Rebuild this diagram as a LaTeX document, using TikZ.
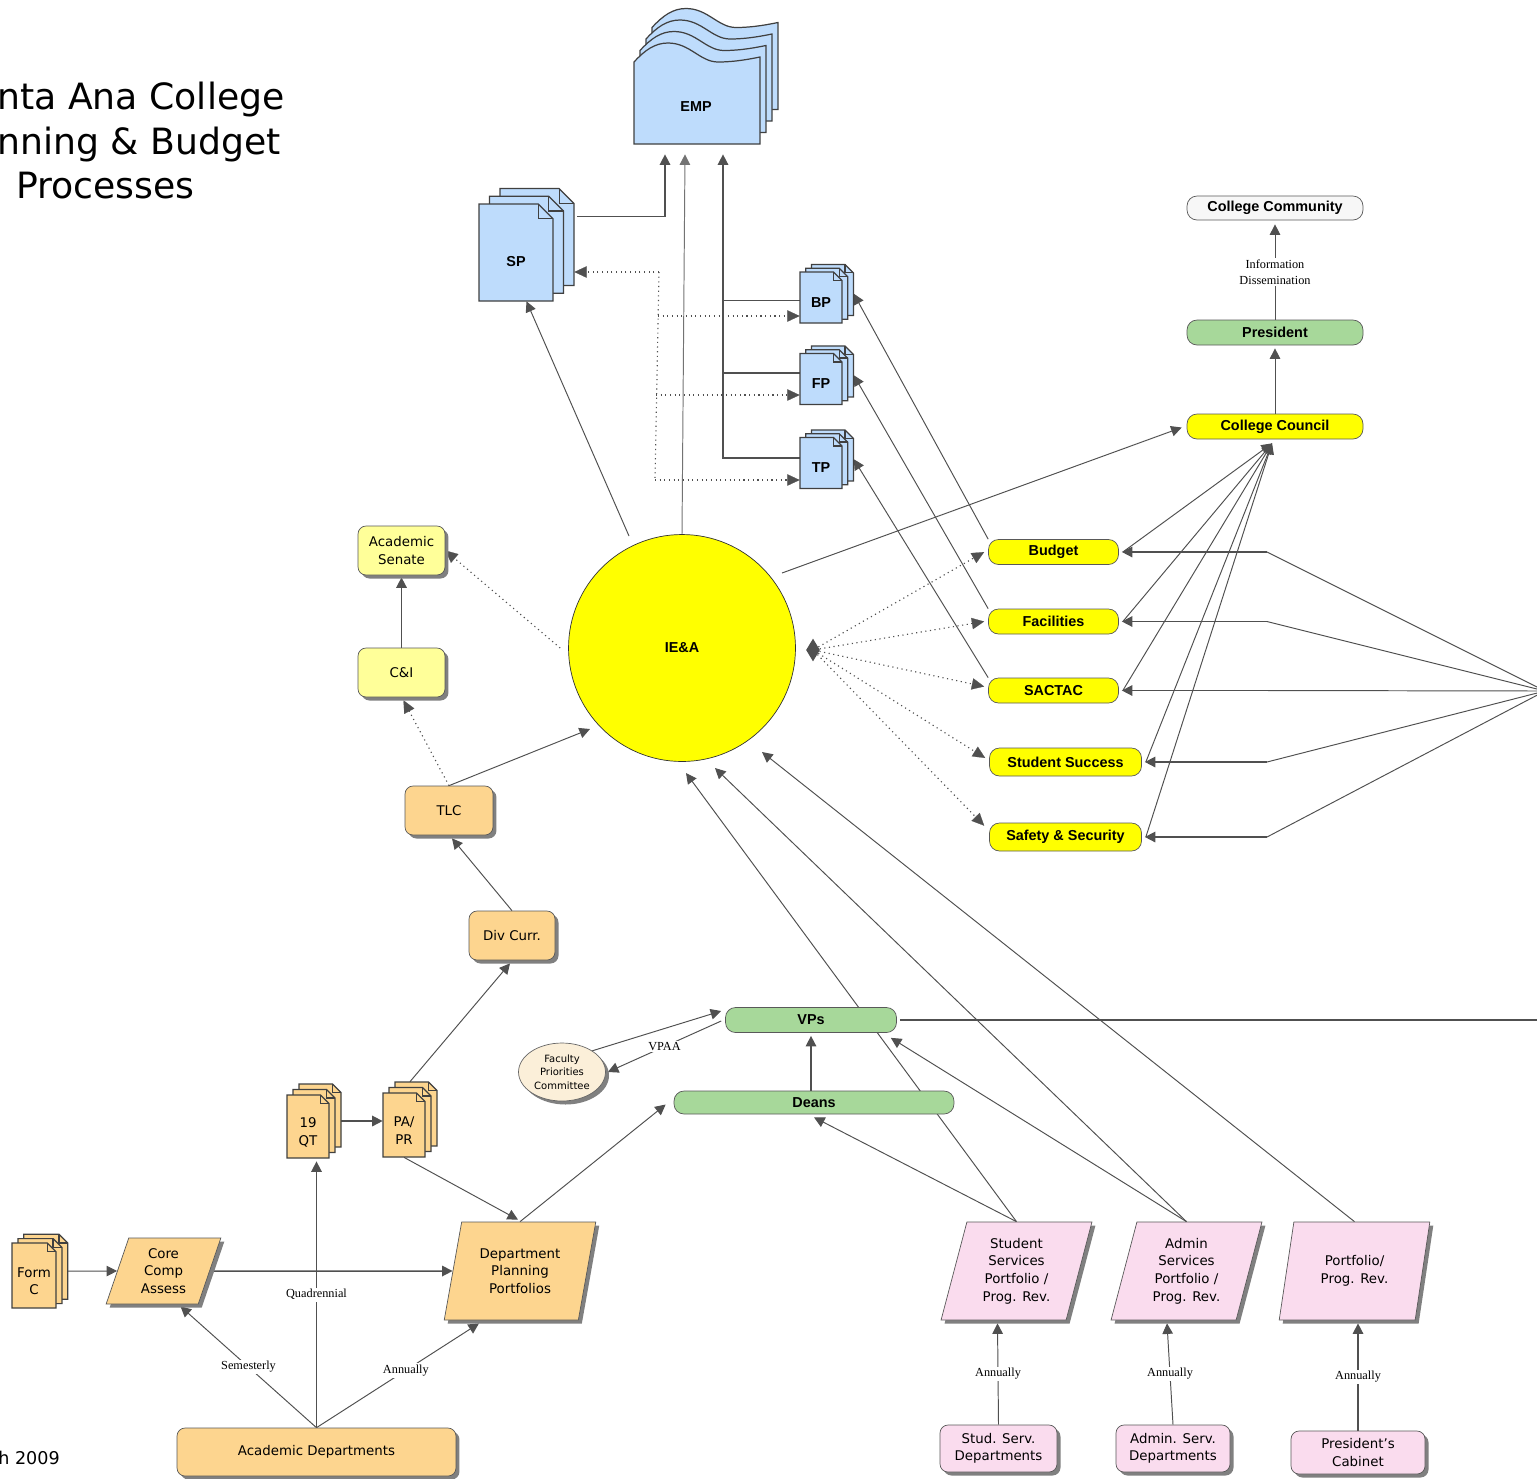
\documentclass[tikz,border=0pt]{standalone}
\usepackage{fontspec}
\setmainfont{DejaVu Sans}
\newfontfamily\headfont{Liberation Sans}
\newfontfamily\notefont{Liberation Serif}
\usepackage{xcolor}
\usepackage{tikz}
\usetikzlibrary{arrows.meta}
\usetikzlibrary{positioning}
\usetikzlibrary{shapes}
\usetikzlibrary{shadows}
\usetikzlibrary{calc}
\usetikzlibrary{backgrounds}

\definecolor{docblue}{HTML}{BEDCFC}
\definecolor{ieayellow}{HTML}{FFFF00}
\definecolor{paleyellow}{HTML}{FFFF99}
\definecolor{deptorange}{HTML}{FDD58F}
\definecolor{vpgreen}{HTML}{A7D89A}
\definecolor{svcpink}{HTML}{FADCEE}
\definecolor{fpccream}{HTML}{FBEFD9}
\definecolor{linegray}{HTML}{505050}

\newcommand{\boldtxt}{\headfont\bfseries\fontsize{8.2}{10}\selectfont}
\newcommand{\plaintxt}{\fontsize{7.6}{10}\selectfont}
\newcommand{\smalltxt}{\fontsize{5.7}{7.7}\selectfont}
\newcommand{\notetxt}{\notefont\fontsize{7}{9}\selectfont}
\newcommand{\titletxt}{\fontsize{20.6}{25.5}\selectfont}

% name, x, y, width, height, page dx, page dy, kind, text
\newcommand{\docstack}[9]{%
  \foreach \k in {2,1,0}{%
    \pgfmathsetmacro{\pgL}{#2-(#4)/2+\k*(#6)}%
    \pgfmathsetmacro{\pgR}{#2+(#4)/2+\k*(#6)}%
    \pgfmathsetmacro{\pgT}{#3-(#5)/2+\k*(#7)}%
    \pgfmathsetmacro{\pgB}{#3+(#5)/2+\k*(#7)}%
    \pgfmathsetmacro{\pgF}{0.2*(#4)}%
    \filldraw[docpage, #8 page] (\pgL,\pgT) -- ({\pgR-\pgF},\pgT) -- (\pgR,{\pgT+\pgF}) -- (\pgR,\pgB) -- (\pgL,\pgB) -- cycle;
    \draw[docpage] ({\pgR-\pgF},\pgT) -- ({\pgR-\pgF},{\pgT+\pgF}) -- (\pgR,{\pgT+\pgF});
  }%
  \node[minimum width=#4*0.02cm, minimum height=#5*0.02cm] (#1) at (#2,#3) {};
  \node[minimum width={(#4+2*(#6))*0.02cm}, minimum height={(#5-2*(#7))*0.02cm}] (#1-stack) at ({#2+(#6)},{#3+(#7)}) {};
  \node[align=center, #8 text] (#1-lbl) at (#2,{#3+0.09*(#5)}) {#9};
}

\begin{document}
\begin{tikzpicture}[x=0.02cm, y=-0.02cm,
    >={Triangle[length=6pt,width=6pt]},
    every node/.style={inner sep=0pt},
    docpage/.style={draw=black!75, line width=0.7pt},
    blue page/.style={fill=docblue},
    blue text/.style={font=\boldtxt},
    orange page/.style={fill=deptorange},
    orange text/.style={font=\plaintxt},
    boxshadow/.style={drop shadow={shadow xshift=0.07cm, shadow yshift=-0.07cm, fill=black!50, opacity=1}},
    committee/.style={draw=black!65, fill=ieayellow, rounded corners=0.2cm, font=\boldtxt, minimum height=0.5cm},
    board/.style={draw=black!65, fill=vpgreen, rounded corners=0.2cm, font=\boldtxt, minimum height=0.5cm},
    unit/.style={draw=black!65, rounded corners=0.16cm, font=\plaintxt, align=center, boxshadow},
    portfolio/.style={trapezium, trapezium left angle=75, trapezium right angle=105, trapezium stretches=true,
      draw=black!65, font=\plaintxt, align=center, minimum width=3.02cm, minimum height=1.96cm, boxshadow},
    freq/.style={font=\notetxt, fill=white, inner sep=1pt, align=center},
    flowline/.style={draw=linegray, line width=0.85pt},
    thinflow/.style={draw=linegray, line width=0.55pt},
    dotflow/.style={draw=linegray, line width=0.65pt, dotted,
      >={Triangle[length=7pt,width=6.5pt,fill=linegray,line width=0.1pt]}}]

  \useasboundingbox (0,0) rectangle (1537,1478);

  % title and date
  \node[font=\titletxt, anchor=base west] (title-a) at (-3,109) {nta Ana College};
  \node[font=\titletxt, anchor=base west] (title-b) at (-3,154) {nning \& Budget};
  \node[font=\titletxt, anchor=base west] (title-c) at (16,198) {Processes};
  \node[font=\fontsize{10}{12}\selectfont, anchor=base west] (date) at (-2,1464) {h 2009};

  % plans
  \foreach \k in {3,2,1,0}
    \filldraw[docpage, fill=docblue, shift={({6*\k},{-11.5*\k})}] (634,144) -- (634,62)
      .. controls (645,50) and (655,43) .. (668,43) .. controls (690,43) and (700,62) .. (718,62)
      .. controls (735,62) and (750,59) .. (760,57) -- (760,144) -- cycle;
  \node[font=\boldtxt, minimum width=2.52cm, minimum height=1.64cm] (EMP) at (696,107) {EMP};
  \docstack{SP}{516}{252.5}{74}{97}{10.5}{-7.7}{blue}{SP}
  \docstack{BP}{821}{297.5}{42}{51}{5.7}{-3.8}{blue}{BP}
  \docstack{FP}{821}{379}{42}{51}{5.7}{-3.8}{blue}{FP}
  \docstack{TP}{821}{463}{42}{51}{5.7}{-3.8}{blue}{TP}
  \docstack{FormC}{34}{1275.5}{44}{65}{5.9}{-4.4}{orange}{Form\\C}
  \docstack{QT}{308}{1126.5}{42}{63}{6}{-5.5}{orange}{19\\QT}
  \docstack{PAPR}{404}{1125}{42}{64}{6}{-5.5}{orange}{PA/\\PR}

  % centre
  \node[circle, draw=black!80, fill=ieayellow, minimum size=4.54cm, font=\boldtxt] (IEA) at (682,648) {IE\&A};
  \node[diamond, fill=linegray, minimum width=0.28cm, minimum height=0.46cm] (IEAtail) at (813,650) {};

  % committees
  \node[committee, minimum width=2.6cm] (Budget) at (1053.5,552) {Budget};
  \node[committee, minimum width=2.6cm] (Facilities) at (1053.5,621.5) {Facilities};
  \node[committee, minimum width=2.6cm] (SACTAC) at (1053.5,690.5) {SACTAC};
  \node[committee, minimum width=3.04cm, minimum height=0.56cm] (StudSucc) at (1065.5,762) {Student Success};
  \node[committee, minimum width=3.04cm, minimum height=0.56cm] (Safety) at (1065.5,837) {Safety \& Security};
  \node[committee, minimum width=3.52cm] (CC) at (1275,426.5) {College Council};
  \node[board, minimum width=3.52cm] (President) at (1275,332.5) {President};
  \node[board, fill=gray!6, minimum width=3.52cm, minimum height=0.48cm] (ColCom) at (1275,208) {College Community};
  \node[board, minimum width=3.42cm] (VPs) at (811,1020) {VPs};
  \node[board, minimum width=5.6cm, minimum height=0.46cm] (Deans) at (814,1102.5) {Deans};

  % academic side
  \node[unit, fill=paleyellow, minimum width=1.74cm, minimum height=0.98cm] (AcadSen) at (401.5,550.5) {Academic\\Senate};
  \node[unit, fill=paleyellow, minimum width=1.74cm, minimum height=0.98cm] (CI) at (401.5,672.5) {C\&I};
  \node[unit, fill=deptorange, minimum width=1.76cm, minimum height=0.98cm] (TLC) at (449,810.5) {TLC};
  \node[unit, fill=deptorange, minimum width=1.72cm, minimum height=0.98cm] (DivCurr) at (512,935.5) {Div Curr.};
  \node[unit, fill=deptorange, minimum width=5.58cm, minimum height=0.96cm] (AcadDept) at (316.5,1452) {Academic Departments};
  \node[portfolio, fill=deptorange, minimum width=2.3cm, minimum height=1.32cm,
    trapezium left angle=72, trapezium right angle=108] (CoreComp) at (163.5,1271) {Core\\Comp\\Assess};
  \node[portfolio, fill=deptorange, minimum width=3.04cm] (DPP) at (520,1271) {Department\\Planning\\Portfolios};
  \node[ellipse, draw=black!60, fill=fpccream, minimum width=1.74cm, minimum height=1.16cm,
    font=\smalltxt, align=center, boxshadow] (FPC) at (562,1072) {Faculty\\Priorities\\Committee};

  % service side
  \node[portfolio, fill=svcpink] (SSP) at (1016.5,1271) {Student\\Services\\Portfolio /\\Prog. Rev.};
  \node[portfolio, fill=svcpink] (ASP) at (1186.5,1271) {Admin\\Services\\Portfolio /\\Prog. Rev.};
  \node[portfolio, fill=svcpink] (PPR) at (1354.5,1271) {Portfolio/\\Prog. Rev.};
  \node[unit, fill=svcpink, minimum width=2.34cm, minimum height=0.94cm] (StudDept) at (998.5,1448.5) {Stud. Serv.\\Departments};
  \node[unit, fill=svcpink, minimum width=2.28cm, minimum height=0.94cm] (AdminDept) at (1173,1448.5) {Admin. Serv.\\Departments};
  \node[unit, fill=svcpink, minimum width=2.68cm, minimum height=0.86cm] (PresCab) at (1358,1452.5) {President's\\Cabinet};

  \coordinate (empJoin) at ($(EMP.south)+(27,6)$);
  \coordinate (bpOut) at ($(BP.west)+(0,3)$);
  \coordinate (fpOut) at ($(FP.west)+(0,-6)$);
  \coordinate (tpOut) at ($(TP.west)+(0,-5)$);
  \coordinate (dotTop) at (659,272);
  \coordinate (dotBP) at (658,316);
  \coordinate (dotFP) at (656,395);
  \coordinate (dotBot) at (655,480);
  \coordinate (ccIn) at ($(CC.south)+(-3,4)$);
  \coordinate (fanX) at (1267,0);
  \coordinate (fanIn) at (1545,691);
  \coordinate (vpOut) at (1545,1020);

  \begin{scope}[on background layer]
    % into the EMP
    \draw[flowline,->] ($(SP-stack.north east)+(3,28)$) -| ($(EMP.south)+(-31,6)$);
    \draw[thinflow, draw=black!55, ->] (IEA.north) -- ($(EMP.south)+(-11,6)$);
    \draw[flowline,->] (tpOut) -| (empJoin);
    \draw[flowline] (bpOut) -- (bpOut -| empJoin);
    \draw[flowline] (fpOut) -- (fpOut -| empJoin);
    \draw[dotflow,->] (dotTop) -- (dotTop -| SP-stack.east);
    \draw[dotflow] (dotTop) -- (dotBot);
    \draw[dotflow,->] (dotBP) -- (dotBP -| BP.west);
    \draw[dotflow,->] (dotFP) -- (dotFP -| FP.west);
    \draw[dotflow,->] (dotBot) -- (dotBot -| TP.west);

    % out of the IE&A
    \draw[thinflow,->] ($(IEA)+(-53,-112)$) -- (SP-stack.south);
    \draw[dotflow,->] ($(IEA.west)+(-8,0)$) -- (AcadSen.east);
    \draw[thinflow,->] ($(IEA)+(100,-75)$) -- ($(CC.west)+(-5,1)$);
    \path[dotflow,->] (IEAtail) edge ($(Budget.west)+(-4,0)$)
                                edge ($(Facilities.west)+(-4,0)$)
                                edge ($(SACTAC.west)+(-4,-4)$)
                                edge ($(StudSucc.west)+(-4,-4)$)
                                edge ($(Safety.north west)+(-5,3)$);

    % committees
    \draw[thinflow,->] (Budget.north west) -- (BP-stack.east);
    \draw[thinflow,->] (Facilities.north west) -- (FP-stack.east);
    \draw[thinflow,->] (SACTAC.north west) -- (TP-stack.east);
    \foreach \c in {Budget,Facilities,SACTAC,StudSucc,Safety}{
      \draw[thinflow,->] ($(\c.east)+(4,0)$) -- (ccIn);
      \draw[flowline,->] (\c.east -| fanX) -- ($(\c.east)+(3,0)$);
      \draw[thinflow] (\c.east -| fanX) -- (fanIn);
    }
    \draw[thinflow,->] (CC.north) -- ($(President.south)+(0,3)$);
    \draw[thinflow,->] (President.north) -- ($(ColCom.south)+(0,4)$)
      node[freq, midway] {Information\\Dissemination};

    % academic chain
    \draw[flowline,->] (CI.north) -- ($(AcadSen.south)+(0,2)$);
    \draw[dotflow,->] (TLC.north) -- ($(CI.south)+(2,3)$);
    \draw[thinflow,->] (TLC.north) -- ($(IEA)+(-92,81)$);
    \draw[thinflow,->] (DivCurr.north) -- ($(TLC.south)+(3,3)$);
    \draw[thinflow,->] (PAPR-stack.north) -- ($(DivCurr.south)+(-2,3)$);
    \draw[flowline,->] (QT-stack.east) -- (QT-stack.east -| PAPR.west);
    \draw[thinflow,->] (PAPR.south) -- ($(DPP.north -| DPP.center)+(-2,-2)$);
    \draw[thinflow,->] (DPP.north -| DPP.center) -- ($(Deans.west)+(-8,2)$);
    \draw[thinflow,->] (FormC-stack.east) -- (CoreComp.west);
    \draw[flowline,->] (CoreComp.east) -- (DPP.west);
    \draw[flowline,->] (AcadDept.north) -- ($(AcadDept.north |- QT-stack.south)+(0,3)$)
      node[freq, midway] {Quadrennial};
    \draw[thinflow,->] (AcadDept.north) -- ($(CoreComp.south -| CoreComp.center)+(17,2)$)
      node[freq, midway] {Semesterly};
    \draw[thinflow,->] (AcadDept.north) -- ($(DPP.south -| DPP.center)+(-41,3)$)
      node[freq, pos=0.55] {Annually};

    % VPs and deans
    \draw[flowline,->] (Deans.north -| VPs.south) -- ($(VPs.south)+(0,3)$);
    \draw[thinflow,->] (FPC.35) -- ($(VPs.west)+(-4,-9)$);
    \draw[thinflow,->] ($(VPs.west)+(-4,1)$) -- ($(FPC.east)+(2,0)$) node[freq, midway] {VPAA};
    \draw[flowline] ($(VPs.east)+(3,0)$) -- (vpOut);

    % service portfolios
    \draw[thinflow,->] (SSP.north -| SSP.center) -- ($(Deans.south)+(0,3)$);
    \draw[thinflow,->] (SSP.north -| SSP.center) -- ($(IEA)+(4,125)$);
    \draw[thinflow,->] (ASP.north -| ASP.center) -- ($(VPs.south east)+(-6,5)$);
    \draw[thinflow,->] (ASP.north -| ASP.center) -- ($(IEA)+(33,120)$);
    \draw[thinflow,->] (PPR.north -| PPR.center) -- ($(IEA)+(80,104)$);
    \draw[thinflow,->] (StudDept.north) -- ($(StudDept.north |- SSP.south)+(-1,3)$)
      node[freq, midway] {Annually};
    \draw[thinflow,->] (AdminDept.north) -- ($(AdminDept.north |- ASP.south)+(-6,3)$)
      node[freq, midway] {Annually};
    \draw[flowline,->] (PresCab.north) -- ($(PresCab.north |- PPR.south)+(0,3)$)
      node[freq, midway] {Annually};
  \end{scope}
\end{tikzpicture}
\end{document}
